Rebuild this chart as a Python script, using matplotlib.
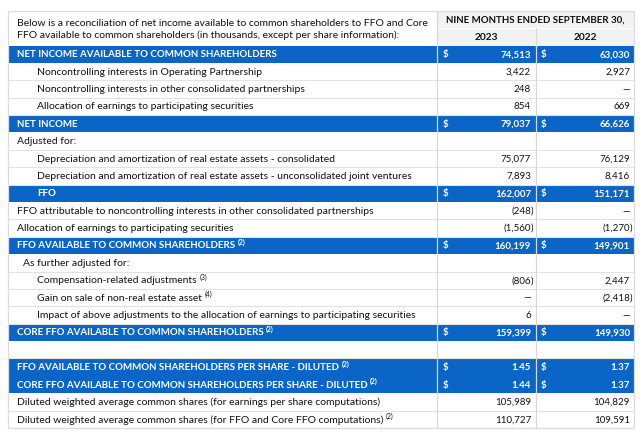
import matplotlib
matplotlib.use("Agg")
import matplotlib.pyplot as plt
from matplotlib.patches import Rectangle

plt.rcParams["font.family"] = ["Lato", "DejaVu Sans"]

INTRO = [
    "Below is a reconciliation of net income available to common shareholders to FFO and Core",
    "FFO available to common shareholders (in thousands, except per share information):",
]
PERIOD = "NINE MONTHS ENDED SEPTEMBER 30,"
YEARS = ["2023", "2022"]

labels = [
    "NET INCOME AVAILABLE TO COMMON SHAREHOLDERS",
    "Noncontrolling interests in Operating Partnership",
    "Noncontrolling interests in other consolidated partnerships",
    "Allocation of earnings to participating securities",
    "NET INCOME",
    "Adjusted for:",
    "Depreciation and amortization of real estate assets - consolidated",
    "Depreciation and amortization of real estate assets - unconsolidated joint ventures",
    "FFO",
    "FFO attributable to noncontrolling interests in other consolidated partnerships",
    "Allocation of earnings to participating securities",
    "FFO AVAILABLE TO COMMON SHAREHOLDERS",
    "As further adjusted for:",
    "Compensation-related adjustments",
    "Gain on sale of non-real estate asset",
    "Impact of above adjustments to the allocation of earnings to participating securities",
    "CORE FFO AVAILABLE TO COMMON SHAREHOLDERS",
    "",
    "FFO AVAILABLE TO COMMON SHAREHOLDERS PER SHARE - DILUTED",
    "CORE FFO AVAILABLE TO COMMON SHAREHOLDERS PER SHARE - DILUTED",
    "Diluted weighted average common shares (for earnings per share computations)",
    "Diluted weighted average common shares (for FFO and Core FFO computations)",
]
notes = ["", "", "", "", "", "", "", "", "", "", "", "(2)", "", "(3)", "(4)", "",
         "(2)", "", "(2)", "(2)", "", "(2)"]
indent = [0, 2, 2, 2, 0, 0, 2, 2, 2, 0, 0, 0, 1, 2, 2, 2, 0, 0, 0, 0, 0, 0]
highlight = [1, 0, 0, 0, 1, 0, 0, 0, 1, 0, 0, 1, 0, 0, 0, 0, 1, 0, 1, 1, 0, 0]
vals_2023 = ["74,513", "3,422", "248", "854", "79,037", "", "75,077", "7,893", "162,007",
             "(248)", "(1,560)", "160,199", "", "(806)", "\u2014", "6", "159,399", "",
             "1.45", "1.44", "105,989", "110,727"]
vals_2022 = ["63,030", "2,927", "\u2014", "669", "66,626", "", "76,129", "8,416", "151,171",
             "\u2014", "(1,270)", "149,901", "", "2,447", "(2,418)", "\u2014", "149,930", "",
             "1.37", "1.37", "104,829", "109,591"]

BLUE = "#0a65c7"
GRID = "#e2e2e2"
HEAD = "#f2f2f2"

W, H = 640, 434
fig = plt.figure(figsize=(W / 100, H / 100), dpi=100)
ax = fig.add_axes([0, 0, 1, 1])
ax.set_xlim(0, W)
ax.set_ylim(H, 0)
ax.axis("off")

x_left, x_c1, x_c2, x_right = 8, 437, 536, 634
y_top, y_head2, y_body, y_bottom = 11, 28, 45.5, 428
n = len(labels)
rh = (y_bottom - y_body) / n
fs_bold = 7.0
fs_reg = 7.5
fs_num = 7.0
indent_x = [17, 23, 37]
dollar_x = [443, 541]
num_right = [531, 630]

renderer = fig.canvas.get_renderer()

# header
ax.add_patch(Rectangle((x_c1, y_top), x_right - x_c1, y_body - y_top, facecolor=HEAD,
                       edgecolor="none", zorder=0))
ax.plot([x_c1, x_right], [y_head2, y_head2], color="white", lw=1.0, zorder=1)
ax.plot([x_c2, x_c2], [y_head2, y_body], color="white", lw=1.0, zorder=1)
ax.text((x_c1 + x_right) / 2, (y_top + y_head2) / 2 + 0.5, PERIOD, ha="center", va="center",
        fontsize=fs_bold, fontweight="bold", color="#111")
for c, yr in enumerate(YEARS):
    cx = (x_c1 + x_c2) / 2 if c == 0 else (x_c2 + x_right) / 2
    ax.text(cx, (y_head2 + y_body) / 2 + 1, yr, ha="center", va="center", fontsize=fs_bold + 0.3,
            fontweight="bold", color="#111")
for k, line in enumerate(INTRO):
    ax.text(17, 23 + 12 * k, line, ha="left", va="center", fontsize=fs_reg, color="#111")

# body rows
for i in range(n):
    y0 = y_body + i * rh
    yc = y0 + rh / 2 + 0.5
    hi = bool(highlight[i])
    if hi:
        ax.add_patch(Rectangle((x_left, y0), x_right - x_left, rh, facecolor=BLUE,
                               edgecolor="none", zorder=0))
    else:
        ax.plot([x_left, x_right], [y0 + rh, y0 + rh], color=GRID, lw=0.8, zorder=1)
    col = "white" if hi else "#111"
    wt = "bold" if hi else "normal"
    lfs = fs_bold if hi else fs_reg
    if labels[i]:
        t = ax.text(indent_x[indent[i]], yc, labels[i], ha="left", va="center", fontsize=lfs,
                    color=col, fontweight=wt)
        if notes[i]:
            bb = t.get_window_extent(renderer)
            xe = ax.transData.inverted().transform((bb.x1, bb.y0))[0]
            ax.text(xe + 2.5, yc - 3.2, notes[i], ha="left", va="center", fontsize=5.0,
                    color=col, fontweight=wt)
    for c, v in enumerate([vals_2023[i], vals_2022[i]]):
        if hi:
            ax.text(dollar_x[c], yc, "$", ha="left", va="center", fontsize=fs_num, color=col,
                    fontweight="bold")
        if not v:
            continue
        if v.endswith(")"):
            ax.text(num_right[c], yc, v[:-1], ha="right", va="center", fontsize=fs_num, color=col,
                    fontweight=wt)
            ax.text(num_right[c], yc, ")", ha="left", va="center", fontsize=fs_num, color=col,
                    fontweight=wt)
        else:
            ax.text(num_right[c], yc, v, ha="right", va="center", fontsize=fs_num, color=col,
                    fontweight=wt)

# column separators and outer frame
for xv in (x_c1, x_c2):
    y_start = y_top if xv == x_c1 else y_head2
    ax.plot([xv, xv], [y_start, y_bottom], color="#d8d8d8", lw=0.9, zorder=1)
ax.add_patch(Rectangle((x_left, y_top), x_right - x_left, y_bottom - y_top, facecolor="none",
                       edgecolor="#dcdcdc", lw=0.9, zorder=2))

fig.savefig("out.png", dpi=100)
